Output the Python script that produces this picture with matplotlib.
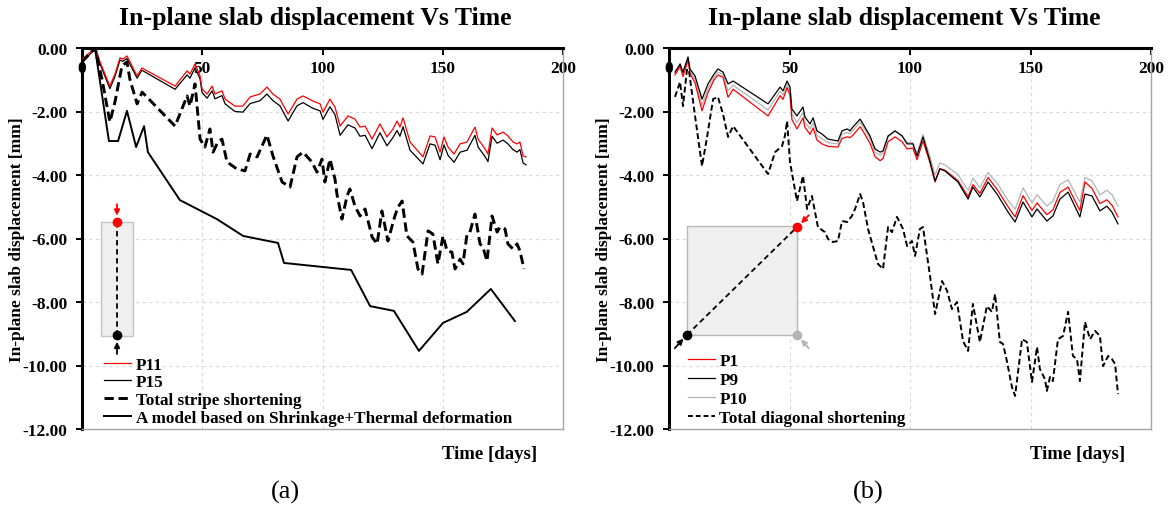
import matplotlib
matplotlib.use("Agg")
import matplotlib.pyplot as plt
from matplotlib.patches import Rectangle
from matplotlib.lines import Line2D

plt.rcParams['font.family'] = ['Liberation Serif', 'DejaVu Serif']
plt.rcParams['font.weight'] = 'bold'

# ---------------- shared axis settings ----------------
x_ticks = [0, 50, 100, 150, 200]
x_tick_labels = ['0', '50', '100', '150', '200']
y_ticks = [0, -2, -4, -6, -8, -10, -12]
y_tick_labels = ['0.00', '-2.00', '-4.00', '-6.00', '-8.00', '-10.00', '-12.00']

# ---------------- panel (a): stripe ----------------
t_a = [0, 4.6, 5.8, 7.5, 11.6, 13.7, 15.8, 17.0, 18.7, 20.0, 22.9, 24.9, 38.7, 43.7, 44.9,
       47.0, 49.1, 49.9, 52.0, 54.1, 55.3, 58.2, 59.5, 63.6, 66.9, 69.9, 74.0, 76.9, 79.4,
       82.3, 85.7, 89.4, 91.9, 96.0, 99.0, 100.2, 103.1, 105.2, 107.3, 110.6, 113.5, 115.6,
       117.7, 120.6, 123.9, 126.8, 129.3, 131.0, 132.2, 133.5, 136.4, 141.8, 144.7, 146.8,
       148.9, 150.5, 152.2, 154.7, 157.2, 160.1, 163.4, 164.7, 167.6, 168.8, 170.5, 172.6,
       175.1, 177.1, 179.2, 180.9, 182.1, 183.4, 184.6]
p11 = [-0.35, -0.06, -0.03, -0.44, -1.20, -0.82, -0.31, -0.35, -0.25, -0.44, -0.88, -0.63,
       -1.20, -0.72, -0.82, -0.50, -0.88, -1.29, -1.45, -1.20, -1.45, -1.35, -1.61, -1.83,
       -1.83, -1.54, -1.45, -1.23, -1.45, -1.61, -2.08, -1.61, -1.51, -1.67, -1.76, -2.02,
       -1.61, -1.86, -2.46, -2.14, -2.24, -2.49, -2.46, -2.87, -2.39, -2.80, -2.55, -2.30,
       -2.49, -2.20, -2.96, -3.43, -2.77, -2.80, -3.28, -2.80, -3.12, -3.34, -3.02, -2.96,
       -2.49, -2.87, -3.18, -3.34, -2.52, -2.74, -2.65, -2.77, -2.96, -3.02, -2.96, -3.40,
       -3.43]
p15 = [-0.45, -0.10, -0.05, -0.50, -1.28, -0.90, -0.38, -0.42, -0.33, -0.52, -0.95, -0.70,
       -1.30, -0.85, -0.95, -0.62, -0.98, -1.40, -1.58, -1.35, -1.60, -1.50, -1.76, -2.00,
       -2.02, -1.75, -1.66, -1.45, -1.66, -1.82, -2.30, -1.82, -1.72, -1.90, -1.98, -2.25,
       -1.85, -2.10, -2.75, -2.42, -2.52, -2.78, -2.75, -3.17, -2.67, -3.08, -2.82, -2.60,
       -2.78, -2.48, -3.22, -3.65, -3.02, -3.06, -3.52, -3.05, -3.38, -3.60, -3.28, -3.22,
       -2.75, -3.12, -3.42, -3.58, -2.78, -3.00, -2.90, -3.02, -3.20, -3.28, -3.20, -3.62,
       -3.68]

t_stripe = [0, 4.2, 5.4, 8.3, 11.6, 13.7, 16.6, 18.7, 19.9, 22.9, 25.0, 38.7, 43.7, 44.9,
            47.0, 49.1, 51.1, 53.2, 54.5, 56.5, 58.2, 60.3, 64.4, 67.8, 69.9, 72.8, 76.9,
            79.4, 83.2, 86.5, 89.4, 91.9, 95.6, 97.7, 99.8, 101.0, 103.1, 105.2, 106.0,
            108.1, 110.2, 111.4, 113.5, 115.6, 117.7, 120.6, 122.7, 124.7, 127.2, 130.1,
            131.4, 133.1, 135.1, 137.6, 139.7, 141.4, 143.9, 145.9, 148.0, 150.1, 151.8,
            153.8, 155.1, 157.2, 158.4, 160.1, 161.3, 163.4, 165.5, 166.7, 168.4, 170.5,
            172.6, 173.8, 175.9, 177.1, 179.2, 180.9, 182.1, 183.8]
stripe = [-0.44, -0.09, 0.0, -0.98, -2.33, -1.70, -0.57, -0.44, -0.98, -1.76, -1.39, -2.46,
          -1.51, -1.83, -1.13, -2.87, -3.12, -2.55, -3.28, -2.96, -2.87, -3.59, -3.81, -3.87,
          -3.34, -3.43, -2.74, -3.40, -4.22, -4.38, -3.43, -3.28, -3.59, -3.91, -3.50, -4.22,
          -3.50, -4.13, -4.60, -5.39, -4.66, -4.44, -4.98, -5.29, -5.07, -5.95, -6.17, -5.13,
          -6.08, -5.29, -5.01, -4.82, -5.92, -6.11, -6.96, -7.12, -5.76, -5.86, -6.80, -5.92,
          -6.39, -6.43, -6.96, -6.65, -6.80, -5.86, -5.80, -5.23, -6.17, -6.27, -6.71, -5.29,
          -5.80, -5.64, -5.70, -6.17, -6.33, -6.17, -6.39, -6.96]

t_model = [5.4, 11.2, 15.0, 18.7, 22.5, 25.8, 27.4, 40.7, 56.1, 67.0, 81.5, 84.0, 111.9,
           119.8, 129.7, 140.1, 150.1, 160.0, 170.0, 180.0]
model = [0.0, -2.93, -2.93, -1.98, -3.12, -2.46, -3.28, -4.79, -5.39, -5.92, -6.14, -6.77,
         -6.99, -8.13, -8.28, -9.54, -8.66, -8.31, -7.59, -8.60]

# ---------------- panel (b): diagonal ----------------
t_b = [2.5, 4.6, 5.8, 7.9, 8.7, 10.8, 13.7, 16.2, 18.7, 20.3, 22.4, 24.5, 26.6, 41.1, 46.1,
       47.3, 49.0, 50.2, 51.0, 53.1, 55.6, 56.4, 58.5, 59.8, 61.4, 63.5, 66.0, 70.1, 71.8,
       73.9, 75.1, 76.3, 79.3, 80.5, 83.4, 85.5, 87.6, 88.8, 90.9, 93.8, 96.7, 98.8, 101.2,
       102.9, 105.4, 108.3, 110.4, 112.4, 114.5, 117.4, 119.9, 121.6, 124.1, 126.1, 129.0,
       132.4, 136.1, 140.7, 143.6, 146.9, 150.6, 152.7, 156.8, 159.3, 162.2, 165.6, 170.5,
       172.6, 175.5, 178.8, 181.7, 183.8, 186.3]
p1 = [-0.85, -0.58, -0.90, -0.38, -0.80, -1.10, -1.98, -1.40, -1.00, -0.85, -0.92, -1.55,
      -1.30, -2.14, -1.50, -1.62, -1.25, -1.48, -2.25, -2.55, -2.20, -2.50, -2.72, -2.52,
      -2.90, -3.02, -3.10, -3.12, -2.85, -2.80, -2.82, -2.75, -2.48, -2.62, -3.00, -3.42,
      -3.55, -3.48, -2.95, -2.80, -2.95, -3.18, -3.15, -3.52, -2.93, -3.62, -4.22, -3.80,
      -3.85, -4.02, -4.18, -4.38, -4.68, -4.30, -4.58, -4.08, -4.45, -5.00, -5.32, -4.65,
      -5.12, -4.88, -5.25, -5.10, -4.55, -4.38, -5.12, -4.22, -4.42, -4.90, -4.78, -4.95,
      -5.32]
p9 = [-0.76, -0.50, -0.76, -0.28, -0.66, -0.88, -1.61, -1.13, -0.82, -0.66, -0.76, -1.13,
      -1.04, -1.76, -1.23, -1.35, -1.04, -1.23, -1.92, -2.14, -1.86, -2.17, -2.39, -2.20,
      -2.61, -2.71, -2.87, -2.93, -2.61, -2.55, -2.61, -2.49, -2.24, -2.39, -2.77, -3.18,
      -3.28, -3.24, -2.77, -2.61, -2.77, -3.02, -3.02, -3.40, -2.80, -3.56, -4.19, -3.81,
      -3.87, -4.06, -4.22, -4.44, -4.76, -4.38, -4.69, -4.22, -4.60, -5.17, -5.48, -4.85,
      -5.32, -5.07, -5.45, -5.29, -4.76, -4.54, -5.32, -4.60, -4.66, -5.13, -4.98, -5.17,
      -5.54]
p10 = [-0.80, -0.54, -0.83, -0.33, -0.73, -0.98, -1.80, -1.27, -0.91, -0.76, -0.84, -1.35,
       -1.17, -1.95, -1.36, -1.48, -1.15, -1.35, -2.08, -2.35, -2.03, -2.33, -2.55, -2.36,
       -2.75, -2.86, -2.98, -3.02, -2.72, -2.66, -2.70, -2.60, -2.34, -2.48, -2.85, -3.28,
       -3.38, -3.30, -2.80, -2.62, -2.75, -2.98, -2.98, -3.32, -2.72, -3.42, -4.00, -3.62,
       -3.68, -3.85, -3.98, -4.20, -4.48, -4.10, -4.40, -3.92, -4.25, -4.80, -5.08, -4.40,
       -4.88, -4.62, -4.98, -4.82, -4.30, -4.15, -4.85, -4.08, -4.18, -4.62, -4.48, -4.62,
       -4.98]

t_diag = [2.5, 4.6, 5.8, 7.5, 8.3, 10.8, 13.7, 15.8, 18.3, 20.3, 22.4, 24.5, 26.6, 41.1,
          44.0, 46.9, 48.1, 49.0, 50.2, 53.1, 55.6, 57.3, 59.3, 60.6, 61.8, 64.7, 66.0, 68.0,
          70.1, 71.8, 73.9, 75.9, 77.2, 79.3, 80.5, 82.6, 84.6, 86.7, 88.8, 90.9, 92.5, 94.6,
          97.1, 98.8, 100.8, 102.1, 104.1, 105.4, 107.1, 108.3, 110.4, 113.3, 115.4, 117.4,
          119.5, 122.0, 124.1, 126.1, 129.0, 131.9, 134.0, 135.3, 137.3, 138.6, 140.2, 142.3,
          143.6, 146.5, 148.5, 150.6, 152.7, 153.9, 156.0, 156.8, 158.1, 159.3, 161.4, 163.5,
          165.6, 167.6, 169.3, 170.5, 172.6, 174.7, 176.8, 178.8, 180.1, 182.2, 183.8, 185.1,
          186.3]
diag = [-1.54, -1.07, -1.83, -0.66, -0.72, -2.14, -3.72, -2.80, -1.61, -1.54, -2.08, -2.80,
        -2.46, -3.97, -3.28, -3.09, -2.77, -2.30, -3.59, -4.82, -4.03, -5.07, -4.66, -5.17,
        -5.64, -5.80, -6.02, -6.11, -6.08, -5.45, -5.48, -5.29, -5.07, -4.60, -4.85, -5.70,
        -6.24, -6.80, -6.96, -5.64, -5.80, -5.32, -5.70, -6.24, -6.08, -6.55, -5.70, -5.64,
        -6.55, -7.18, -8.38, -7.34, -7.65, -8.22, -8.00, -9.23, -9.54, -8.06, -9.26, -8.13,
        -8.31, -7.75, -9.26, -9.32, -9.86, -10.68, -10.96, -9.17, -9.26, -10.52, -9.42,
        -10.11, -10.43, -10.80, -10.36, -10.49, -9.17, -9.07, -8.31, -9.70, -9.80, -10.49,
        -8.63, -9.17, -8.91, -9.07, -10.02, -9.70, -9.80, -9.95, -10.90]

TITLE = 'In-plane slab displacement Vs Time'
YLABEL = 'In-plane slab displacement [mm]'
XLABEL = 'Time [days]'

W, H = 1170, 506
fig = plt.figure(figsize=(W / 100, H / 100), dpi=100)
axA = fig.add_axes([82 / W, 1 - 430 / H, 481 / W, 381 / H])
axB = fig.add_axes([669 / W, 1 - 430 / H, 482 / W, 381 / H])

GRID = '#d9d9d9'
EDGE = '#a6a6a6'


def style(ax):
    ax.set_xlim(0, 200)
    ax.set_ylim(-12, 0)
    ax.set_xticks(x_ticks)
    ax.set_xticklabels(x_tick_labels)
    ax.set_yticks(y_ticks)
    ax.set_yticklabels(y_tick_labels)
    ax.xaxis.tick_top()
    ax.tick_params(axis='x', direction='in', length=5, width=1.4, pad=-20,
                   labelsize=12.5, top=True, bottom=False)
    ax.tick_params(axis='y', direction='out', length=4, width=1.4, pad=6.5,
                   labelsize=12.5)
    for s in ('top', 'left'):
        ax.spines[s].set_linewidth(2.2)
        ax.spines[s].set_color('black')
    for s in ('right', 'bottom'):
        ax.spines[s].set_linewidth(1.0)
        ax.spines[s].set_color(EDGE)
    ax.grid(True, color=GRID, linestyle=(0, (3, 3)), linewidth=0.8)
    ax.set_axisbelow(True)
    ax.set_ylabel(YLABEL, fontsize=12.5, fontweight='bold')
    ax.yaxis.set_label_coords(-0.118, 0.5)


style(axA)
style(axB)

# panel (a) series
axA.plot(t_a, p15, color='black', lw=0.9, zorder=3)
axA.plot(t_a, p11, color='#ff0000', lw=0.9, zorder=3)
axA.plot(t_stripe, stripe, color='black', lw=2.1, ls=(0, (3.2, 1.6)), zorder=4)
axA.plot(t_model, model, color='black', lw=1.4, zorder=4)

# panel (b) series
axB.plot(t_b, p10, color='#b4b4b4', lw=0.9, zorder=3)
axB.plot(t_b, p1, color='#ff0000', lw=0.9, zorder=3)
axB.plot(t_b, p9, color='black', lw=0.9, zorder=3)
axB.plot(t_diag, diag, color='black', lw=1.4, ls=(0, (3, 1.6)), zorder=4)


def arrow(ax, tail, head, color):
    ax.annotate('', xy=head, xytext=tail, xycoords='axes fraction',
                textcoords='axes fraction',
                arrowprops=dict(arrowstyle='-|>', color=color, lw=1.3,
                                mutation_scale=8, shrinkA=0, shrinkB=0))


# stripe sketch in panel (a)
axA.add_patch(Rectangle((0.0395, 0.244), 0.0665, 0.299, transform=axA.transAxes,
                        facecolor='#efefef', edgecolor='#c4c4c4', lw=1.0, zorder=2))
axA.plot([0.0728, 0.0728], [0.543, 0.247], transform=axA.transAxes, color='black',
         lw=1.3, ls=(0, (3, 2)), zorder=5)
axA.plot([0.0728], [0.543], 'o', color='#ff0000', ms=6, transform=axA.transAxes, zorder=6)
axA.plot([0.0728], [0.247], 'o', color='black', ms=6, transform=axA.transAxes, zorder=6)
arrow(axA, (0.0728, 0.590), (0.0728, 0.560), '#ff0000')
arrow(axA, (0.0728, 0.197), (0.0728, 0.229), 'black')

# diagonal sketch in panel (b)
axB.add_patch(Rectangle((0.0373, 0.247), 0.2283, 0.286, transform=axB.transAxes,
                        facecolor='#efefef', edgecolor='#b8b8b8', lw=1.0, zorder=2))
axB.plot([0.0373, 0.2656], [0.247, 0.530], transform=axB.transAxes, color='black',
         lw=1.3, ls=(0, (3, 2)), zorder=5)
axB.plot([0.2656], [0.530], 'o', color='#ff0000', ms=6, transform=axB.transAxes, zorder=6)
axB.plot([0.0373], [0.247], 'o', color='black', ms=6, transform=axB.transAxes, zorder=6)
axB.plot([0.2656], [0.247], 'o', color='#b4b4b4', ms=6, transform=axB.transAxes, zorder=6)
arrow(axB, (0.290, 0.561), (0.274, 0.540), '#ff0000')
arrow(axB, (0.012, 0.212), (0.030, 0.237), 'black')
arrow(axB, (0.290, 0.212), (0.274, 0.235), '#b4b4b4')

# legends
leg_kw = dict(frameon=False, loc='upper left', fontsize=12.3, handlelength=1.6,
              handletextpad=0.25, borderpad=0, borderaxespad=0, labelspacing=0.10)
hA = [Line2D([], [], color='#ff0000', lw=0.9),
      Line2D([], [], color='black', lw=0.9),
      Line2D([], [], color='black', lw=2.1, ls=(0, (3.2, 1.6))),
      Line2D([], [], color='black', lw=1.4)]
axA.legend(hA, ['P11', 'P15', 'Total stripe shortening',
                'A model based on Shrinkage+Thermal deformation'],
           bbox_to_anchor=(0.046, 0.19), **leg_kw)
hB = [Line2D([], [], color='#ff0000', lw=0.9),
      Line2D([], [], color='black', lw=0.9),
      Line2D([], [], color='#b4b4b4', lw=0.9),
      Line2D([], [], color='black', lw=1.4, ls=(0, (2.5, 1.5)))]
leg_kw_b = dict(leg_kw, labelspacing=0.17)
axB.legend(hB, ['P1', 'P9', 'P10', 'Total diagonal shortening'],
           bbox_to_anchor=(0.039, 0.200), **leg_kw_b)

# titles, axis titles and panel tags
fig.text(315 / W, 1 - 19 / H, TITLE, ha='center', va='center', fontsize=18.5, fontweight='bold')
fig.text(904 / W, 1 - 19 / H, TITLE, ha='center', va='center', fontsize=18.5, fontweight='bold')
fig.text(490 / W, 1 - 455 / H, XLABEL, ha='center', va='center', fontsize=13.5, fontweight='bold')
fig.text(1078 / W, 1 - 455 / H, XLABEL, ha='center', va='center', fontsize=13.5, fontweight='bold')
fig.text(285 / W, 1 - 492 / H, '(a)', ha='center', va='center', fontsize=19, fontweight='normal')
fig.text(868 / W, 1 - 492 / H, '(b)', ha='center', va='center', fontsize=19, fontweight='normal')

fig.savefig('out.png', dpi=100, facecolor='white')
